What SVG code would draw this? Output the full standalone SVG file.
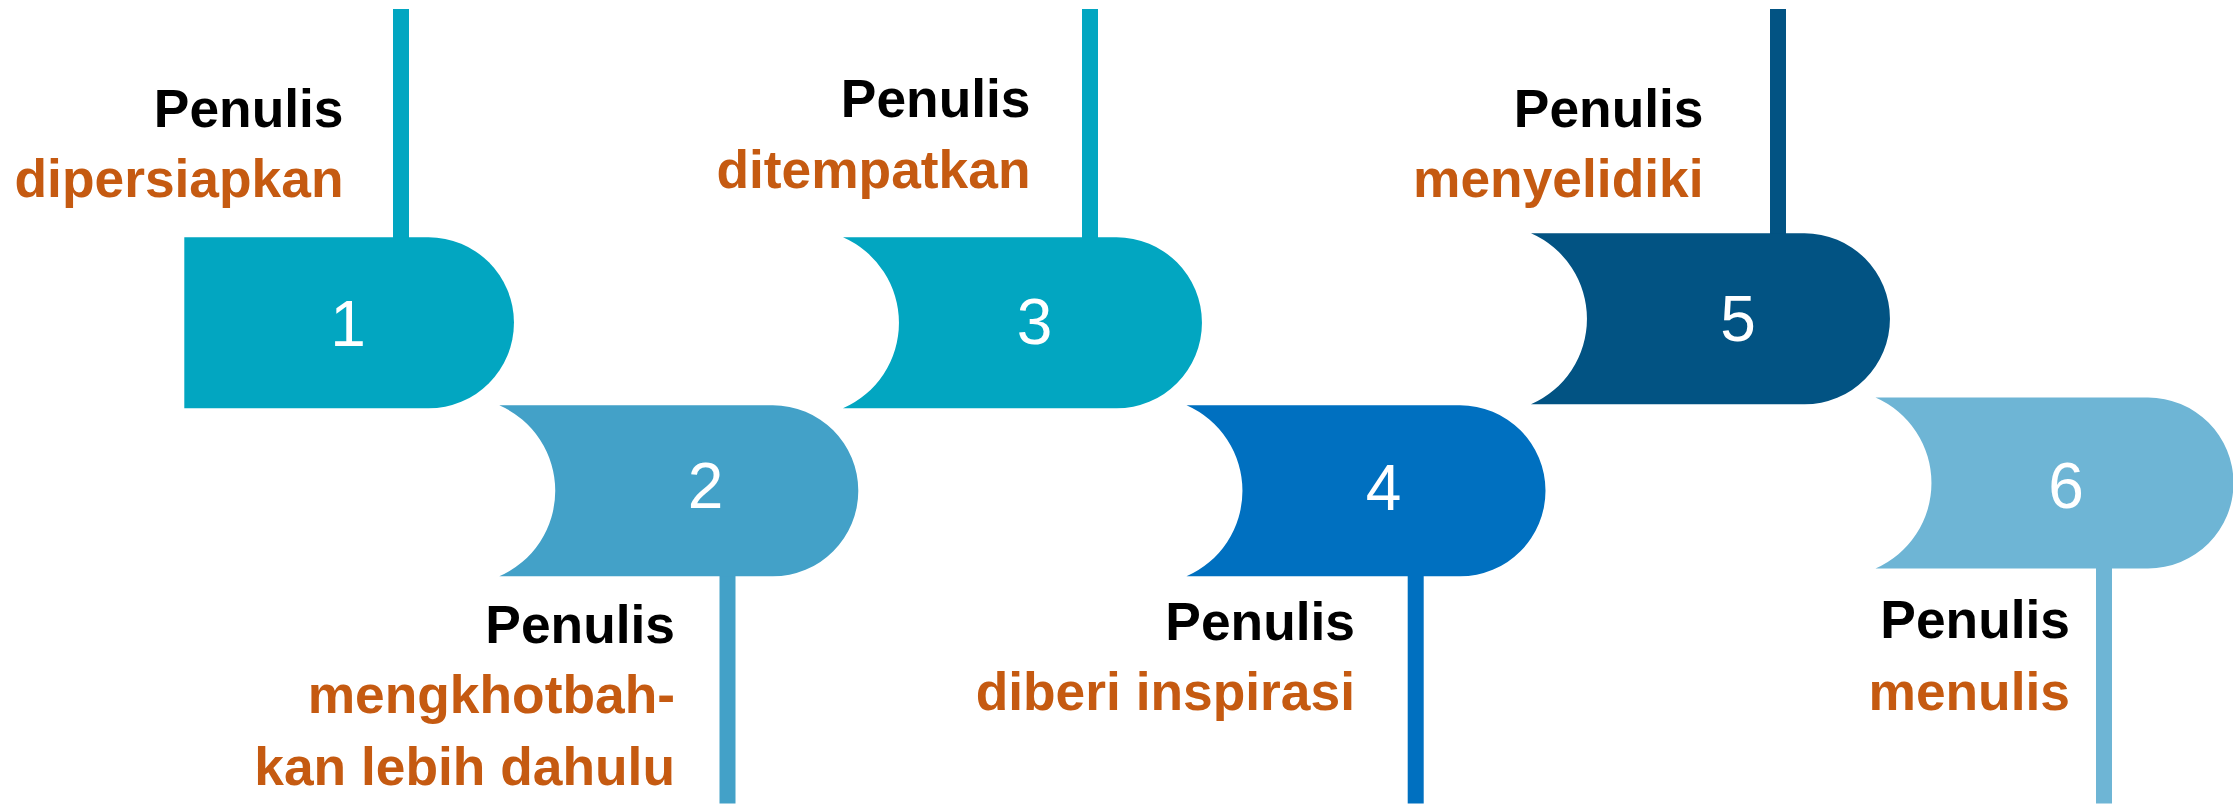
<svg xmlns="http://www.w3.org/2000/svg" width="2233" height="805" viewBox="0 0 2233 805">
<style>
.lbl{font-family:"Liberation Sans",Arial,sans-serif;font-weight:bold;font-size:53.33px;text-anchor:end}
.blk{fill:#000000}
.org{fill:#C55A11}
.num{font-family:"Liberation Sans",Arial,sans-serif;font-size:64px;fill:#FFFFFF;text-anchor:middle}
.c1{fill:#02A6C1}
.c2{fill:#43A1C8}
.c4{fill:#0070C0}
.c5{fill:#025383}
.c6{fill:#6EB5D5}
</style>
<rect width="2233" height="805" fill="#FFFFFF"/>
<g id="step1">
<rect class="c1" x="393" y="9" width="16" height="230"/>
<path class="c1" d="M184.3,237.3 H428.5 A85.5,85.5 0 0 1 428.5,408.3 H184.3 Z"/>
<text class="num" x="348" y="345.7">1</text>
<text class="lbl blk" x="343.5" y="126.7">Penulis</text>
<text class="lbl org" x="343.5" y="196.7">dipersiapkan</text>
</g>
<g id="step2">
<rect class="c2" x="719.5" y="574" width="16" height="229.5"/>
<path class="c2" d="M499.3,405.3 H772.8 A85.5,85.5 0 0 1 772.8,576.3 H499.3 A93.3,93.3 0 0 0 499.3,405.3 Z"/>
<text class="num" x="705.5" y="508.3">2</text>
<text class="lbl blk" x="675" y="643.3">Penulis</text>
<text class="lbl org" x="675" y="713.3">mengkhotbah-</text>
<text class="lbl org" x="675" y="785">kan lebih dahulu</text>
</g>
<g id="step3">
<rect class="c1" x="1082" y="9" width="16" height="230"/>
<path class="c1" d="M843,237.3 H1116.5 A85.5,85.5 0 0 1 1116.5,408.3 H843 A93.3,93.3 0 0 0 843,237.3 Z"/>
<text class="num" x="1034.5" y="343.5">3</text>
<text class="lbl blk" x="1030.5" y="117.3">Penulis</text>
<text class="lbl org" x="1030.5" y="188.3">ditempatkan</text>
</g>
<g id="step4">
<rect class="c4" x="1407.7" y="574" width="16" height="229.5"/>
<path class="c4" d="M1186.5,405.3 H1460 A85.5,85.5 0 0 1 1460,576.3 H1186.5 A93.3,93.3 0 0 0 1186.5,405.3 Z"/>
<text class="num" x="1383.5" y="510">4</text>
<text class="lbl blk" x="1355" y="640">Penulis</text>
<text class="lbl org" x="1355" y="710">diberi inspirasi</text>
</g>
<g id="step5">
<rect class="c5" x="1770" y="9" width="16" height="226"/>
<path class="c5" d="M1531,233.3 H1804.5 A85.5,85.5 0 0 1 1804.5,404.3 H1531 A93.3,93.3 0 0 0 1531,233.3 Z"/>
<text class="num" x="1738" y="340.5">5</text>
<text class="lbl blk" x="1703.5" y="126.7">Penulis</text>
<text class="lbl org" x="1703.5" y="196.7">menyelidiki</text>
</g>
<g id="step6">
<rect class="c6" x="2096" y="566" width="16" height="237.5"/>
<path class="c6" d="M1875.5,397.5 H2148 A85.5,85.5 0 0 1 2148,568.5 H1875.5 A93.3,93.3 0 0 0 1875.5,397.5 Z"/>
<text class="num" x="2066" y="508.3">6</text>
<text class="lbl blk" x="2070" y="638.3">Penulis</text>
<text class="lbl org" x="2070" y="710">menulis</text>
</g>
</svg>
